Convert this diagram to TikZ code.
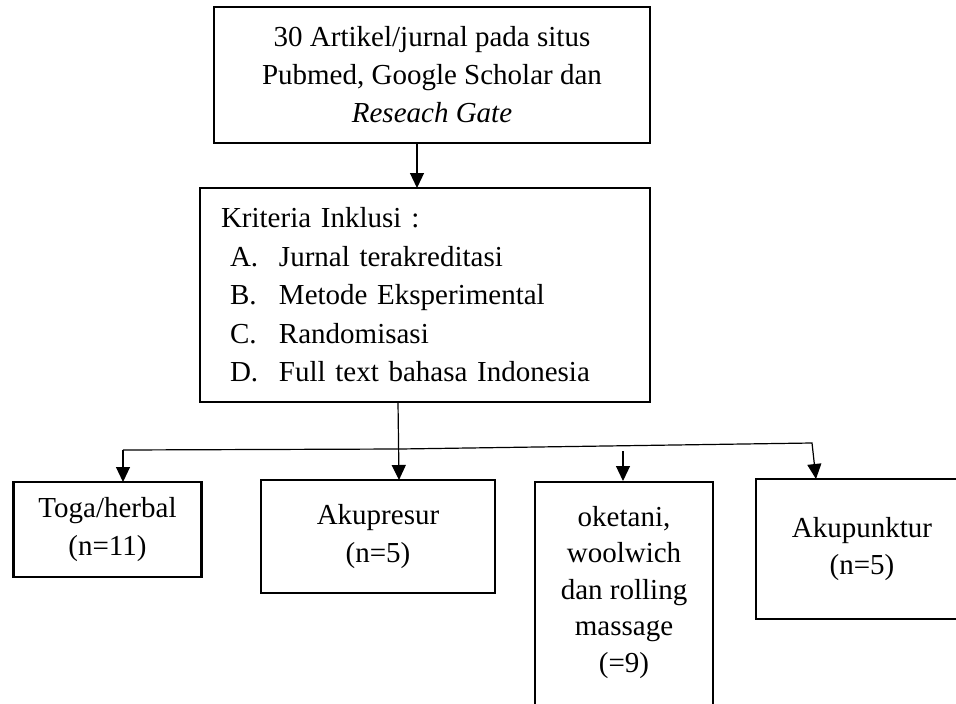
\documentclass[tikz,border=0pt]{standalone}
\usepackage{fontspec}
\setmainfont{Liberation Serif}
\usetikzlibrary{arrows.meta}
\tikzset{
  boxst/.style={draw, line width=2.4pt, inner sep=0pt, font=\fontsize{29}{37.5}\selectfont},
  conn/.style={line width=1.2pt},
  arr/.style={conn, -{Triangle[width=14pt,length=15pt]}}
}
\begin{document}
\begin{tikzpicture}[x=1pt,y=-1pt]
\useasboundingbox (0,0) rectangle (956,704);
% top box
\node[boxst, align=center, minimum width=436pt, minimum height=136pt,
      font=\fontsize{29}{38}\selectfont] (top) at (432,75)
  {30 Artikel/jurnal pada situs\\Pubmed, Google Scholar dan\\\textit{Reseach Gate}};
% criteria box
\node[boxst, align=left, text width=408pt, inner xsep=21pt, minimum height=214pt,
      font=\fontsize{29}{38.5}\selectfont] (krit) at (425,295)
  {Kriteria Inklusi\hspace{10pt}:\\
   \hspace*{9pt}\makebox[49pt][l]{A.}Jurnal terakreditasi\\
   \hspace*{9pt}\makebox[49pt][l]{B.}Metode Eksperimental\\
   \hspace*{9pt}\makebox[49pt][l]{C.}Randomisasi\\
   \hspace*{9pt}\makebox[49pt][l]{D.}Full text bahasa Indonesia};
% bottom boxes
\node[boxst, align=center, minimum width=188pt, minimum height=95pt] (toga) at (107.5,529.5)
  {Toga/herbal\\(n=11)};
\node[boxst, align=center, minimum width=234pt, minimum height=113pt] (akupres) at (378,536.5)
  {Akupresur\\(n=5)};
\node[boxst, minimum width=178pt, minimum height=260pt, anchor=north] (okbox) at (624,481) {};
\node[align=center, inner sep=0pt, anchor=north, font=\fontsize{29}{36.5}\selectfont] (oktext) at (624,506)
  {oketani,\\woolwich\\dan rolling\\massage\\(=9)};
\node[boxst, align=center, minimum width=212pt, minimum height=140pt] (akupun) at (862,549)
  {Akupunktur\\(n=5)};
% connectors
\coordinate (t1) at (417,143);
\coordinate (k1) at (417,188);
\draw[arr] (t1) -- (k1);
\coordinate (kb) at (398,402);
\coordinate (ap) at (399,480);
\draw[arr] (kb) -- (ap);
\coordinate (hl) at (123,450);
\coordinate (hm) at (400,449);
\coordinate (hr) at (812,443);
\coordinate (ak) at (816,479);
\coordinate (tg) at (123,482);
\draw[arr] (tg |- hl) -- (hm) -- (hr) -- (ak);
\draw[arr] (hl) -- (tg);
\coordinate (os) at (623,451);
\coordinate (ot) at (623,481);
\draw[arr] (os) -- (ot);
\end{tikzpicture}
\end{document}
